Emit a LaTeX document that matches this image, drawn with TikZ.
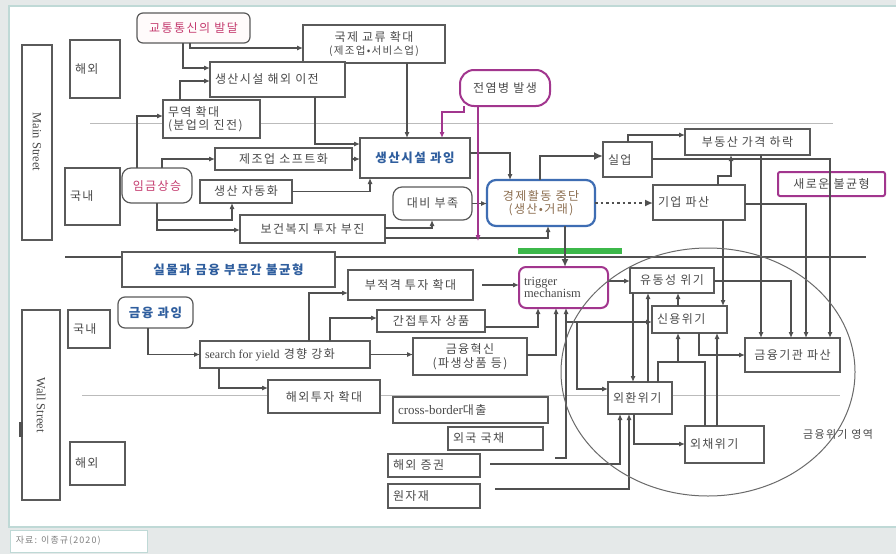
\documentclass[tikz,border=0pt]{standalone}
\usepackage{fontspec}
\setmainfont{Noto Sans CJK KR}[LetterSpace=12]
\newfontfamily\lser{Liberation Serif}
\usetikzlibrary{arrows.meta}
\definecolor{lc}{HTML}{505050}
\definecolor{bc}{HTML}{5A5A5A}
\definecolor{tc}{HTML}{4A4A4A}
\definecolor{mag}{HTML}{A2368E}
\definecolor{pnk}{HTML}{C43A6E}
\definecolor{blu}{HTML}{2F5E9E}
\definecolor{hbl}{HTML}{3E6DB3}
\definecolor{grn}{HTML}{3CB84A}
\definecolor{bgc}{HTML}{E5E9E9}
\definecolor{frm}{HTML}{BFD9D6}
\definecolor{dv}{HTML}{BBBBBB}
\definecolor{brn}{HTML}{8C6E50}
\tikzset{
 bx/.style={draw=bc,line width=1.2pt,fill=white,text=tc,inner sep=2pt,outer sep=0pt,font=\fontsize{12}{13.5}\selectfont,align=center},
 rbx/.style={bx,rounded corners=6pt},
 bbf/.style={text=blu,font=\bfseries\fontsize{12.5}{14}\selectfont},
 ar/.style={draw=lc,line width=1.1pt,-{Latex[length=6pt,width=5pt]}},
 ln/.style={draw=lc,line width=1.1pt},
 arm/.style={draw=mag,line width=1.1pt,-{Latex[length=6pt,width=5pt]}},
}
\newcommand{\B}[7][]{\node[bx,#1,minimum width={(#5-#3)*1pt},minimum height={(#6-#4)*1pt}] (#2) at ({(#3+#5)/2},{-(#4+#6)/2}) {#7};}
\newcommand{\BL}[7][]{\B[#1]{#2}{#3}{#4}{#5}{#6}{}\node[bx,#1,draw=none,fill=none,minimum width=0pt,minimum height=0pt,anchor=west,align=left] (#2t) at ([xshift=3pt]#2.west) {#7};}
\begin{document}
\begin{tikzpicture}[x=1pt,y=1pt]
\useasboundingbox (0,0) rectangle (896,-554);
\fill[bgc] (0,0) rectangle (896,-554);
\fill[white] (9,-6) rectangle (896,-527);
\draw[frm,line width=1.5pt] (896,-6) -- (9,-6) -- (9,-527) -- (896,-527);
% dividers
\draw[dv,line width=0.9pt] (90,-123) -- (833,-123);
\draw[dv,line width=0.9pt] (82,-395) -- (840,-395);
\draw[lc,line width=1.2pt] (65,-257) -- (866,-257);
\fill[grn] (518,-248) rectangle (622,-254);
% side boxes
\B{ms}{22}{45}{52}{240}{}
\node[rotate=-90,font=\lser\fontsize{12.5}{14}\selectfont,text=tc] (mst) at (37,-142) {Main Street};
\B{ws}{22}{310}{60}{500}{}
\node[rotate=-90,font=\lser\fontsize{12.5}{14}\selectfont,text=tc] (wst) at (41,-405) {Wall Street};
\fill[lc] (19,-422) rectangle (23,-437);
% main street
\BL{mabroad}{70}{40}{120}{98}{해외}
\BL{mdom}{65}{168}{120}{225}{국내}
\B[rbx,fill=pink!6,text=pnk]{traffic}{137}{13}{250}{43}{교통통신의 발달}
\B{intl}{303}{25}{445}{63}{국제 교류 확대\\{\fontsize{10.5}{12}\selectfont(제조업•서비스업)}}
\BL{relocate}{210}{62}{345}{97}{생산시설 해외 이전}
\BL{trade}{163}{100}{260}{138}{무역 확대\\(분업의 진전)}
\B[rbx,draw=mag,line width=2pt,rounded corners=14pt]{epidemic}{460}{70}{550}{106}{전염병 발생}
\B{soft}{215}{148}{352}{170}{제조업 소프트화}
\B[bbf]{excess}{360}{138}{470}{178}{생산시설 과잉}
\B[rbx,text=pnk,rounded corners=9pt]{wage}{122}{168}{192}{203}{임금상승}
\B{auto}{200}{180}{292}{203}{생산 자동화}
\B[rbx,rounded corners=9pt]{prep}{393}{187}{472}{220}{대비 부족}
\B[rbx,draw=hbl,line width=2.2pt,rounded corners=9pt,text=brn]{halt}{487}{180}{595}{226}{경제활동 중단\\(생산•거래)}
\B{health}{240}{215}{385}{243}{보건복지 투자 부진}
\BL{unemp}{603}{142}{652}{177}{실업}
\B{realestate}{685}{129}{810}{155}{부동산 가격 하락}
\BL{bankrupt}{653}{185}{745}{220}{기업 파산}
\B[draw=mag,line width=2pt,rounded corners=2pt]{newimb}{778}{172}{885}{196}{새로운 불균형}
\B[bbf]{imbal}{122}{252}{335}{287}{실물과 금융 부문간 불균형}
% wall street
\BL{wdom}{68}{310}{110}{348}{국내}
\BL{wabroad}{70}{442}{125}{485}{해외}
\B[rbx,bbf,rounded corners=7pt]{finexc}{118}{297}{193}{328}{금융 과잉}
\B{unfit}{348}{270}{473}{300}{부적격 투자 확대}
\B{indirect}{377}{310}{485}{332}{간접투자 상품}
\BL{search}{200}{341}{370}{368}{{\lser search for yield} 경향 강화}
\B{innov}{413}{338}{527}{375}{금융혁신\\(파생상품 등)}
\B{overseas}{268}{380}{380}{413}{해외투자 확대}
\BL{cross}{393}{397}{548}{423}{{\lser\fontsize{13}{14}\selectfont cross-border}대출}
\BL{fbond}{448}{427}{543}{450}{외국 국채}
\BL{fsec}{388}{454}{480}{477}{해외 증권}
\BL{raw}{388}{484}{480}{508}{원자재}
\BL[rbx,draw=mag,line width=2pt,rounded corners=7pt,font=\lser\fontsize{12.5}{12.5}\selectfont]{trigger}{519}{267}{608}{308}{trigger\\mechanism}
\B{liq}{630}{268}{714}{293}{유동성 위기}
\BL{credit}{652}{306}{727}{333}{신용위기}
\B{fininst}{745}{338}{840}{372}{금융기관 파산}
\BL{fx}{608}{382}{672}{414}{외환위기}
\BL{debt}{685}{426}{764}{463}{외채위기}
% connectors main street
\draw[ar] (traffic.south -| 190,0) |- (intl.west |- 0,-48);
\draw[ar] (traffic.south -| 183,0) |- (relocate.west |- 0,-68);
\draw[ar] (trade.north -| 180,0) |- (relocate.west |- 0,-81);
\draw[ar] (wage.north -| 137,0) |- (trade.west |- 0,-116);
\draw[ar] (intl.south -| 407,0) -- (excess.north -| 407,0);
\draw[ar] (relocate.south -| 315,0) |- (excess.west |- 0,-144);
\draw[ar] (soft.east) -- (excess.west |- soft.east);
\draw[ar] (auto.east) -| (excess.south -| 370,0);
\draw[ar] (wage.north -| 162,0) |- (soft.west);
\draw[ar] (wage.south -| 157,0) |- (232,-220) -- (auto.south -| 232,0);
\draw[ar] (wage.south -| 157,0) |- (health.west |- 0,-230);
\draw[ar] (health.east |- 0,-228) -| (prep.south -| 432,0);
\draw[ar] (health.east |- 0,-238) -| (halt.south -| 548,0);
\draw[ar] (prep.east) -- (halt.west |- prep.east);
\draw[ar] (excess.east |- 0,-153) -| (halt.north -| 510,0);
\draw[arm] ([xshift=4pt]epidemic.south west) |- (442,-112) -- (excess.north -| 442,0);
\coordinate (epiend) at (478,-241);
\draw[arm] (epidemic.south -| 478,0) -- (epiend);
\draw[draw=lc,line width=2.2pt,-{Latex[length=9pt,width=8pt]}] (halt.north -| 540,0) |- (unemp.west |- 0,-156);
\draw[draw=lc,line width=2pt,dash pattern=on 2.5pt off 3pt,-{Latex[length=8pt,width=7pt]}] (halt.east) -- (bankrupt.west |- halt.east);
\draw[ar] (unemp.north -| 628,0) |- (realestate.west |- 0,-135);
\draw[ar] (bankrupt.north -| 718,0) |- (731,-176) -- (realestate.south -| 731,0);
\draw[ar] (unemp.east |- 0,-159) -| (fininst.north -| 830,0);
\draw[ar] (realestate.south -| 761,0) -- (fininst.north -| 761,0);
\draw[ar] (bankrupt.east |- 0,-204) -| (fininst.north -| 806,0);
\draw[ar] (bankrupt.south -| 723,0) -- (credit.north -| 723,0);
% connectors wall street
\draw[draw=lc,line width=1.8pt,-{Latex[length=8pt,width=7pt]}] (halt.south -| 565,0) -- (trigger.north -| 565,0);
\draw[ar] (finexc.south -| 148,0) |- (search.west);
\draw[ar] (search.south -| 219,0) |- (overseas.west |- 0,-388);
\draw[ar] (search.north -| 309,0) |- (unfit.west |- 0,-293);
\draw[ar] (search.north -| 330,0) |- (indirect.west |- 0,-318);
\draw[ar] (search.east) -- (innov.west |- search.east);
\draw[ar] ([xshift=9pt]unfit.east) -- (trigger.west |- unfit.east);
\draw[ar] (indirect.east |- 0,-327) -| (trigger.south -| 538,0);
\draw[ar] (innov.east |- 0,-355) -| (trigger.south -| 556,0);
\coordinate (brk) at (555,-458);
\draw[ar] (brk) -| (trigger.south -| 566,0);
\draw[ar] (trigger.east |- 0,-281) -- (liq.west |- 0,-281);
\coordinate (tcr) at (567,-322);
\draw[ar] (tcr) -- (credit.west |- tcr);
\coordinate (tfx) at (577,-322);
\draw[ar] (tfx) |- (fx.west |- 0,-389);
\draw[ar] (liq.south -| 633,0) -- (fx.north -| 633,0);
\draw[ar] (fx.north -| 648,0) -- (liq.south -| 648,0);
\draw[ar] (credit.north -| 678,0) -- (liq.south -| 678,0);
\draw[ar] (liq.east |- 0,-281) -| (fininst.north -| 791,0);
\draw[ar] (credit.south -| 699,0) |- (fininst.west |- 0,-355);
\draw[ln] (fx.north -| 658,0) -- (658,-362) -- (705,-362) -- (debt.north -| 705,0);
\coordinate (mrg) at (678,-362);
\draw[ar] (mrg) -- (credit.south -| 678,0);
\draw[ar] (debt.north -| 717,0) -- (credit.south -| 717,0);
\draw[ar] (fx.south -| 634,0) |- (debt.west |- 0,-444);
\coordinate (fsx) at (490,-464);
\draw[ar] (fsx) -| (fx.south -| 620,0);
\coordinate (rwx) at (495,-489);
\draw[ar] (rwx) -| (fx.south -| 629,0);
% financial crisis zone
\draw[lc!85,line width=1pt] (708,-372) ellipse [x radius=147pt, y radius=124pt];
\node[text=tc,font=\fontsize{11}{12}\selectfont] (fczl) at (838,-434) {금융위기 영역};
% source
\node[draw=frm,fill=white,line width=0.8pt,minimum width=137pt,minimum height=22pt,inner sep=0pt] (srcbox) at (78.5,-541) {};
\node[anchor=west,text=gray,inner sep=0pt,font=\fontsize{9}{10}\selectfont] (src) at ([xshift=6pt]srcbox.west) {자료: 이종규(2020)};
\end{tikzpicture}
\end{document}
